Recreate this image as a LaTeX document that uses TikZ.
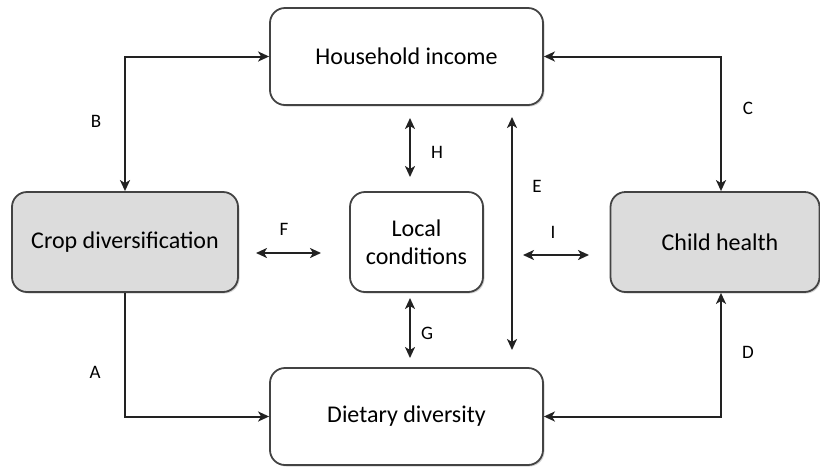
\documentclass[tikz,border=0pt]{standalone}
\usepackage{fontspec}
\setmainfont{Carlito}
\usetikzlibrary{arrows.meta,shadows,calc}
\definecolor{boxgray}{HTML}{DCDCDC}
\definecolor{linec}{HTML}{222222}
\begin{document}
\begin{tikzpicture}[x=1pt,y=-1pt,
  box/.style={draw=linec!85, line width=1.8pt, rounded corners=15pt, fill=white,
    align=center, font=\fontsize{24}{28}\selectfont, inner sep=0pt,
    drop shadow={opacity=0.35, shadow xshift=1.5pt, shadow yshift=-1.5pt}},
  graybox/.style={box, fill=boxgray},
  conn/.style={draw=linec, line width=2pt, arrows={-Stealth[length=11pt,width=10pt,inset=3pt]}},
  dconn/.style={conn, arrows={Stealth[length=11pt,width=10pt,inset=3pt]-Stealth[length=11pt,width=10pt,inset=3pt]}},
  lab/.style={font=\fontsize{19}{22}\selectfont, inner sep=0pt}]
\useasboundingbox (0,0) rectangle (820,467);
\node[box, minimum width=273pt, minimum height=97pt] (house) at (406.5,56.5) {\raisebox{-3pt}{Household income}};
\node[graybox, minimum width=226pt, minimum height=100pt] (crop) at (125,242) {Crop diversification};
\node[box, minimum width=133pt, minimum height=100pt] (local) at (416.5,242) {Local\\conditions};
\node[graybox, minimum width=209pt, minimum height=100pt] (child) at (715,242) {\hspace*{10pt}\raisebox{-1pt}{Child health}};
\node[box, minimum width=273pt, minimum height=97pt] (diet) at (406.5,416.5) {\raisebox{-3pt}{Dietary diversity}};

\draw[dconn] (crop.north) |- (house.west);
\draw[dconn] (house.east) -| ([xshift=6pt]child.north);
\draw[conn] (crop.south) |- (diet.west);
\draw[dconn] (diet.east) -| ([xshift=6pt]child.south);

\coordinate (h1) at (410,118);
\coordinate (h2) at (410,177);
\coordinate (g1) at (410,298);
\coordinate (g2) at (410,358);
\coordinate (e1) at (512,117);
\coordinate (e2) at (512,350);
\coordinate (f1) at (256,253);
\coordinate (f2) at (321,253);
\coordinate (i1) at (523,255);
\coordinate (i2) at (589,255);
\draw[dconn] (h1) -- (h2);
\draw[dconn] (g1) -- (g2);
\draw[dconn] (e1) -- (e2);
\draw[dconn] (f1) -- (f2);
\draw[dconn] (i1) -- (i2);

\node[lab] (lA) at (95,372) {A};
\node[lab] (lB) at (96,121) {B};
\node[lab] (lC) at (748,108) {C};
\node[lab] (lD) at (748,352) {D};
\node[lab] (lE) at (537,186) {E};
\node[lab] (lF) at (284,229) {F};
\node[lab] (lG) at (427,333) {G};
\node[lab] (lH) at (437,152) {H};
\node[lab] (lI) at (553,232) {I};
\end{tikzpicture}
\end{document}
